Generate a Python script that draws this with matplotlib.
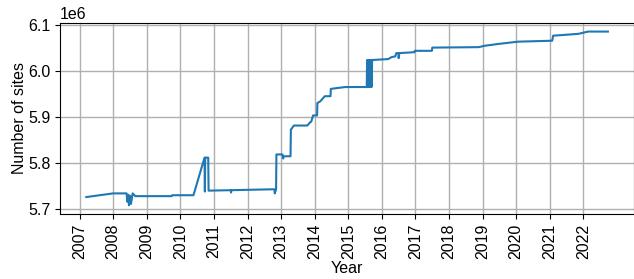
import matplotlib
matplotlib.use("Agg")
import matplotlib.pyplot as plt
import numpy as np

# decimal year of each snapshot and number of sites (millions)
years = [
    2007.20, 2008.00, 2008.40, 2008.42, 2008.45, 2008.47, 2008.50, 2008.53,
    2008.58, 2008.66, 2009.74, 2009.76, 2010.39, 2010.72, 2010.73, 2010.74,
    2010.83, 2010.84, 2011.50, 2011.51, 2011.52, 2012.80, 2012.81, 2012.85,
    2012.86, 2013.04, 2013.06, 2013.08, 2013.28, 2013.29, 2013.38, 2013.78,
    2013.85, 2013.90, 2013.95, 2014.07, 2014.08, 2014.17, 2014.30, 2014.47,
    2014.48, 2014.91, 2015.55,
    2015.56, 2015.57, 2015.59, 2015.60, 2015.62, 2015.63, 2015.65, 2015.66,
    2015.68, 2015.69, 2015.71, 2015.72,
    2016.19, 2016.28, 2016.40, 2016.43, 2016.49, 2016.50, 2016.52, 2016.97,
    2016.98, 2017.49, 2017.50, 2018.88, 2019.06, 2019.47, 2020.06, 2021.07,
    2021.10, 2021.85, 2022.14, 2022.73,
]
sites = [
    5.725, 5.733, 5.733, 5.715, 5.730, 5.707, 5.728, 5.710,
    5.733, 5.727, 5.727, 5.729, 5.729, 5.811, 5.737, 5.811,
    5.811, 5.739, 5.740, 5.735, 5.740, 5.742, 5.733, 5.742,
    5.818, 5.818, 5.809, 5.814, 5.814, 5.872, 5.881, 5.881,
    5.887, 5.890, 5.903, 5.903, 5.930, 5.934, 5.945, 5.945,
    5.961, 5.965, 5.965,
    6.024, 5.965, 6.024, 5.965, 6.024, 5.965, 6.024, 5.965,
    6.024, 5.965, 6.024, 6.024,
    6.026, 6.030, 6.032, 6.039, 6.039, 6.028, 6.039, 6.041,
    6.044, 6.044, 6.051, 6.052, 6.055, 6.059, 6.064, 6.066,
    6.077, 6.081, 6.086, 6.086,
]
tick_years = list(range(2007, 2023))
y_ticks = [5.7, 5.8, 5.9, 6.0, 6.1]

plt.rcParams["font.family"] = ["Liberation Sans", "DejaVu Sans"]
plt.rcParams["font.size"] = 11.5

fig = plt.figure(figsize=(6.34, 2.79), dpi=100)
ax = fig.add_axes([0.095, 0.233, 0.905, 0.685])

ax.plot(years, np.array(sites) * 1e6, color="tab:blue", lw=1.5)

ax.set_xticks(tick_years)
ax.set_xticklabels([str(y) for y in tick_years], rotation=90)
ax.set_yticks(np.array(y_ticks) * 1e6)
ax.grid(True, color="#b0b0b0", lw=1)
ax.set_xlabel("Year", labelpad=1)
ax.set_ylabel("Number of sites", labelpad=1)

fig.savefig("out.png", dpi=100)
